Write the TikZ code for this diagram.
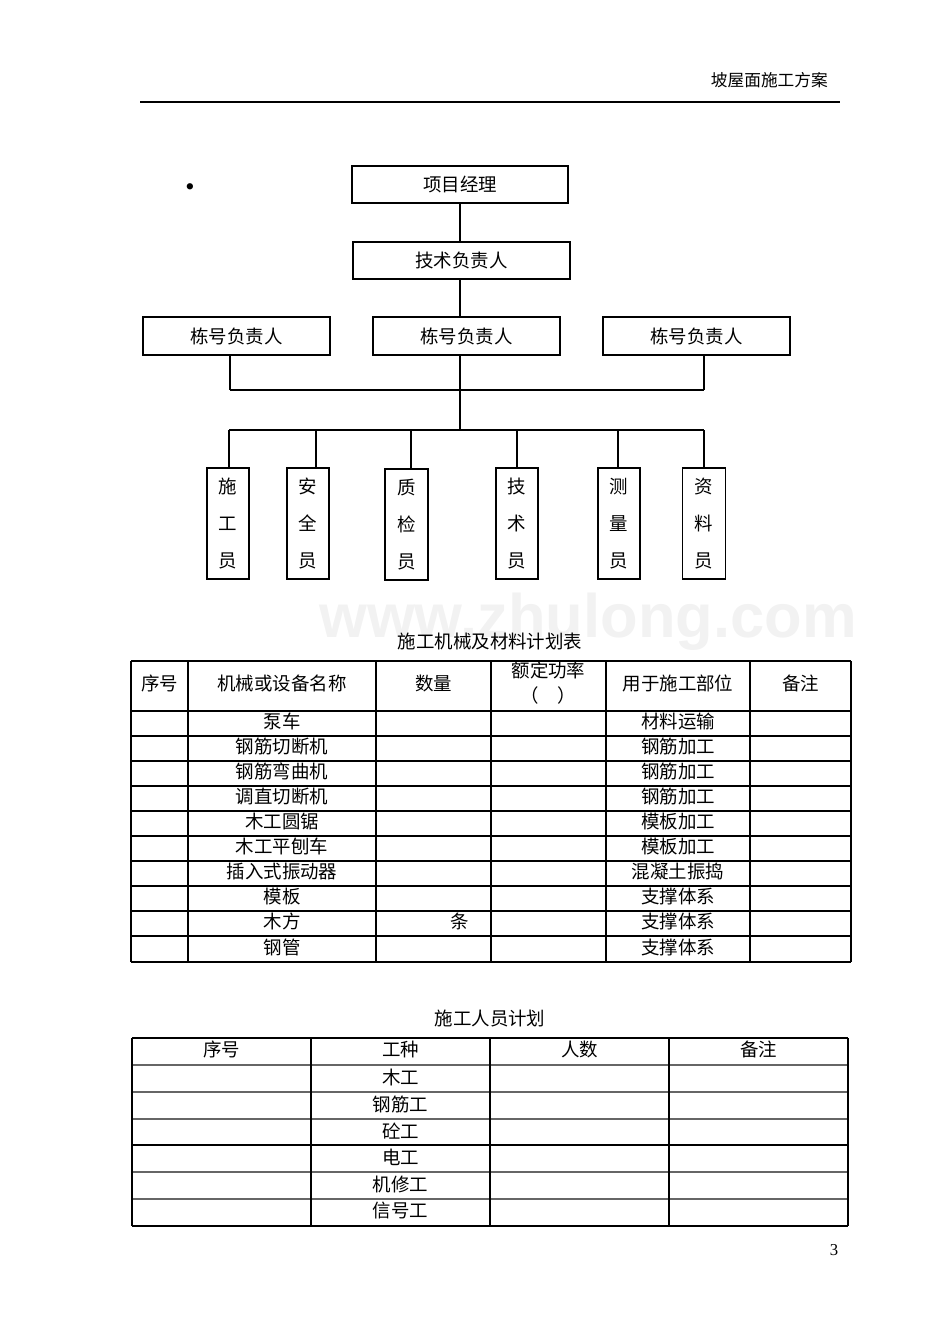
\documentclass[tikz,border=0pt]{standalone}
\usepackage{fontspec}
\setmainfont{Liberation Serif}
\newfontfamily\cjk{Noto Sans CJK SC}
\newfontfamily\marksans{Liberation Sans}
\usepackage{tikz}

\tikzset{
  orgbox/.style={draw, line width=0.6pt, inner sep=0pt, minimum height=7.4mm},
  staffbox/.style={draw, line width=0.6pt, inner sep=0pt, minimum width=8.4mm,
    minimum height=22.2mm, align=center, font=\cjk\fontsize{10.5}{21}\selectfont},
  link/.style={line width=0.6pt},
  rule/.style={line width=1.1pt},
  softrule/.style={line width=0.9pt, black!60},
}

\begin{document}
\begin{tikzpicture}[x=0.2mm, y=-0.2mm, font=\cjk\fontsize{10.5}{12.6}\selectfont]
                \useasboundingbox (0,0) rectangle (950,1344);
                % watermark and page head
                \node[text=black!5, font=\marksans\bfseries\fontsize{35}{40}\selectfont] (wmk) at (588,622) {www.zhulong.com};
                \node[anchor=east, font=\cjk\fontsize{9.5}{11}\selectfont] (headt) at (834,80) {坡屋面施工方案};
                \draw[rule] (140,102) -- (840,102);
                \node[font=\rmfamily\fontsize{15}{16}\selectfont] (dotc) at (190,190) {\textbullet};

                % org chart
                \node[orgbox, minimum width=43.2mm] (PMb) at (460,184.5) {项目经理};
                \node[orgbox, minimum width=43.4mm] (TDb) at (461.5,260.5) {技术负责人};
                \node[orgbox, minimum width=37.4mm, minimum height=7.6mm] (BLa) at (236.5,336) {栋号负责人};
                \node[orgbox, minimum width=37.4mm, minimum height=7.6mm] (BLb) at (466.5,336) {栋号负责人};
                \node[orgbox, minimum width=37.4mm, minimum height=7.6mm] (BLc) at (696.5,336) {栋号负责人};
                \coordinate (jL) at (230,390);
                \coordinate (jR) at (704,390);
                \coordinate (spB) at (460,430);
                \draw[link] (PMb.south) -- (PMb.south |- TDb.north);
                \draw[link] (PMb.south |- TDb.south) -- (PMb.south |- BLb.north);
                \draw[link] (PMb.south |- BLb.south) -- (spB);
                \draw[link] (jL |- BLa.south) -- (jL);
                \draw[link] (jR |- BLc.south) -- (jR);
                \draw[rule] (jL) -- (jR);

                \node[staffbox] (SGy) at (228,523.5) {施\\工\\员};
                \node[staffbox] (AQy) at (308,523.5) {安\\全\\员};
                \node[staffbox, minimum width=8.6mm] (ZJy) at (406.5,524.5) {质\\检\\员};
                \node[staffbox] (JSy) at (517,523.5) {技\\术\\员};
                \node[staffbox] (CLy) at (619,523.5) {测\\量\\员};
                \node[staffbox, minimum width=8.6mm] (ZLy) at (704,523.5) {资\\料\\员};
                \coordinate (tA) at (229,430);
                \coordinate (tB) at (316,430);
                \coordinate (tC) at (411,430);
                \coordinate (tD) at (517,430);
                \coordinate (tE) at (618,430);
                \coordinate (tF) at (704,430);
                \draw[link] (tA) -- (tF);
                \draw[link] (tA) -- (tA |- SGy.north);
                \draw[link] (tB) -- (tB |- AQy.north);
                \draw[link] (tC) -- (tC |- ZJy.north);
                \draw[link] (tD) -- (tD |- JSy.north);
                \draw[link] (tE) -- (tE |- CLy.north);
                \draw[link] (tF) -- (tF |- ZLy.north);

                % machinery and materials table
                \node (capA) at (490,641) {施工机械及材料计划表};
                \draw[rule] (131,661) -- (851,661);
                \draw[link] (131,711) -- (851,711) (131,736) -- (851,736) (131,761) -- (851,761)
                    (131,786) -- (851,786) (131,811) -- (851,811) (131,836) -- (851,836)
                    (131,861) -- (851,861) (131,911) -- (851,911) (131,936) -- (851,936)
                    (131,962) -- (851,962);
                \draw[rule] (131,886) -- (851,886);
                \draw[link] (131,661) -- (131,962) (188,661) -- (188,962) (376,661) -- (376,962)
                    (491,661) -- (491,962) (606,661) -- (606,962) (750,661) -- (750,962)
                    (851,661) -- (851,962);
                \node (hA1) at (159.5,683) {序号};
                \node (hA2) at (282,683) {机械或设备名称};
                \node (hA3) at (433.5,683) {数量};
                \node[align=center, font=\cjk\fontsize{10.5}{14.2}\selectfont] (hA4) at (548.5,683) {额定功率\\（　）};
                \node (hA5) at (678,683) {用于施工部位};
                \node (hA6) at (800.5,683) {备注};
                \node (mA1) at (282,721.5) {泵车};
                \node (mA2) at (282,746.5) {钢筋切断机};
                \node (mA3) at (282,771.5) {钢筋弯曲机};
                \node (mA4) at (282,796.5) {调直切断机};
                \node (mA5) at (282,821.5) {木工圆锯};
                \node (mA6) at (282,846.5) {木工平刨车};
                \node (mA7) at (282,871.5) {插入式振动器};
                \node (mA8) at (282,896.5) {模板};
                \node (mA9) at (282,921.5) {木方};
                \node (mA10) at (282,947) {钢管};
                \node (qA9) at (460,921.5) {条};
                \node (uA1) at (678,721.5) {材料运输};
                \node (uA2) at (678,746.5) {钢筋加工};
                \node (uA3) at (678,771.5) {钢筋加工};
                \node (uA4) at (678,796.5) {钢筋加工};
                \node (uA5) at (678,821.5) {模板加工};
                \node (uA6) at (678,846.5) {模板加工};
                \node (uA7) at (678,871.5) {混凝土振捣};
                \node (uA8) at (678,896.5) {支撑体系};
                \node (uA9) at (678,921.5) {支撑体系};
                \node (uA10) at (678,947) {支撑体系};

                % staffing table
                \node (capB) at (490,1019) {施工人员计划};
                \draw[rule] (132,1038) -- (848,1038);
                \draw[softrule] (132,1065) -- (848,1065) (132,1092) -- (848,1092) (132,1119) -- (848,1119)
                    (132,1172) -- (848,1172) (132,1199) -- (848,1199);
                \draw[rule] (132,1145) -- (848,1145);
                \draw[link] (132,1226) -- (848,1226);
                \draw[link] (132,1038) -- (132,1226) (311,1038) -- (311,1226) (490,1038) -- (490,1226)
                    (669,1038) -- (669,1226) (848,1038) -- (848,1226);
                \node (hB1) at (221.5,1049) {序号};
                \node (hB2) at (400.5,1049) {工种};
                \node (hB3) at (579.5,1049) {人数};
                \node (hB4) at (758.5,1049) {备注};
                \node (wB1) at (400.5,1077) {木工};
                \node (wB2) at (400.5,1104) {钢筋工};
                \node (wB3) at (400.5,1131) {砼工};
                \node (wB4) at (400.5,1157) {电工};
                \node (wB5) at (400.5,1184) {机修工};
                \node (wB6) at (400.5,1211) {信号工};

                \node[font=\rmfamily\fontsize{9.5}{11}\selectfont] (pgno) at (834,1250) {3};
            \end{tikzpicture}
\end{document}
